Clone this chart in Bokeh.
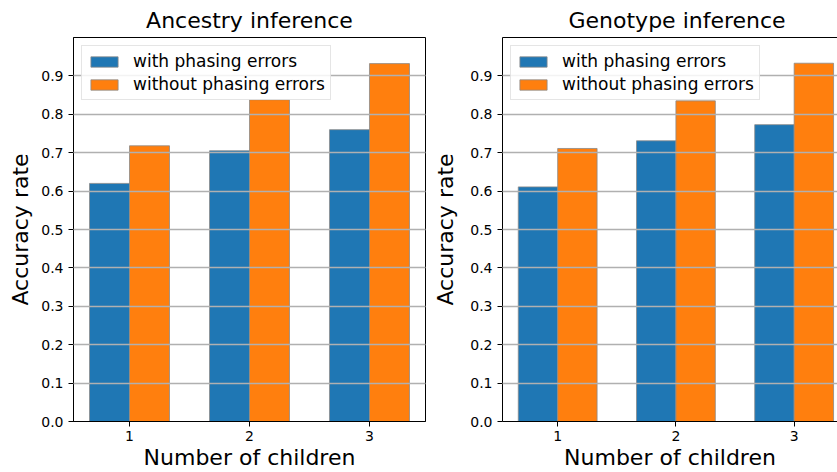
from bokeh.plotting import figure
from bokeh.layouts import row
from bokeh.models import Range1d, FixedTicker, LinearAxis
from bokeh.embed import file_html
from bokeh.resources import INLINE

# ---- data ----
children = [1, 2, 3]
x_tick_labels = ["1", "2", "3"]
y_ticks = [0.0, 0.1, 0.2, 0.3, 0.4, 0.5, 0.6, 0.7, 0.8, 0.9]
y_tick_labels = ["0.0", "0.1", "0.2", "0.3", "0.4", "0.5", "0.6", "0.7", "0.8", "0.9"]
ancestry_with = [0.620, 0.705, 0.760]
ancestry_without = [0.718, 0.838, 0.932]
genotype_with = [0.611, 0.731, 0.773]
genotype_without = [0.711, 0.835, 0.933]
series_labels = ["with phasing errors", "without phasing errors"]
titles = ["Ancestry inference", "Genotype inference"]
x_label = "Number of children"
y_label = "Accuracy rate"

BLUE = "#1f77b4"
ORANGE = "#ff7f0e"
EDGE = "#8a8a8a"
FONT = "DejaVu Sans"
BAR_W = 1.0 / 3.0


def make_panel(title, with_vals, without_vals, width, x_end, border_left, border_right,
               clipped, ylabel_standoff):
    p = figure(width=width, height=472, output_backend="svg", toolbar_location=None,
               x_range=Range1d(0.5333, x_end), y_range=Range1d(0.0, 1.0),
               min_border_left=border_left, min_border_right=border_right,
               min_border_top=36, min_border_bottom=51)
    p.title.text = title
    p.title.text_font = FONT
    p.title.text_font_size = "22px"
    p.title.text_font_style = "normal"
    p.title.text_color = "black"
    if clipped:
        p.title.align = "left"
        p.title.offset = 66
    else:
        p.title.align = "center"

    p.vbar(x=[c - BAR_W / 2 for c in children], top=with_vals, bottom=0, width=BAR_W,
           fill_color=BLUE, line_color=EDGE, line_width=0.8, legend_label=series_labels[0])
    p.vbar(x=[c + BAR_W / 2 for c in children], top=without_vals, bottom=0, width=BAR_W,
           fill_color=ORANGE, line_color=EDGE, line_width=0.8, legend_label=series_labels[1])

    p.xaxis.ticker = FixedTicker(ticks=children)
    p.xaxis.major_label_overrides = {c: l for c, l in zip(children, x_tick_labels)}
    p.yaxis.ticker = FixedTicker(ticks=y_ticks)
    p.yaxis.major_label_overrides = {t: l for t, l in zip(y_ticks, y_tick_labels)}
    for ax in (p.xaxis, p.yaxis):
        ax.axis_line_color = "black"
        ax.axis_line_width = 1
        ax.major_tick_line_color = "black"
        ax.major_tick_in = 0
        ax.major_tick_out = 5
        ax.minor_tick_line_color = None
        ax.major_label_text_font = FONT
        ax.major_label_text_font_size = "14px"
        ax.major_label_text_color = "black"
        ax.axis_label_text_font = FONT
        ax.axis_label_text_font_size = "22px"
        ax.axis_label_text_font_style = "normal"
        ax.axis_label_text_color = "black"
    p.xaxis.axis_label = x_label
    p.yaxis.axis_label = y_label
    p.xaxis.major_label_standoff = 4
    p.xaxis.axis_label_standoff = 1
    p.yaxis.major_label_standoff = 5
    p.yaxis.axis_label_standoff = ylabel_standoff

    p.xgrid.visible = False
    p.ygrid.grid_line_color = "#b0b0b0"
    p.ygrid.grid_line_width = 1.3
    p.ygrid.level = "guide"

    if clipped:
        p.outline_line_color = None
        top = LinearAxis(ticker=FixedTicker(ticks=[]), axis_line_color="black",
                         major_tick_line_color=None, minor_tick_line_color=None,
                         major_label_text_font_size="0px")
        p.add_layout(top, "above")
    else:
        p.outline_line_color = "black"
        p.outline_line_width = 1
        p.outline_line_alpha = 1

    lg = p.legend[0]
    lg.location = "top_left"
    lg.margin = 8
    lg.padding = 5
    lg.spacing = 3
    lg.glyph_width = 34
    lg.glyph_height = 13
    lg.label_height = 20
    lg.label_standoff = 12
    lg.label_text_font = FONT
    lg.label_text_font_size = "17px"
    lg.label_text_color = "black"
    lg.border_line_color = "#cccccc"
    lg.border_line_width = 1
    lg.background_fill_alpha = 0.85
    p.background_fill_color = "white"
    p.border_fill_color = "white"
    return p


p1 = make_panel(titles[0], ancestry_with, ancestry_without, 430, 3.4667, 73, 5, False, 5)
p2 = make_panel(titles[1], genotype_with, genotype_without, 407, 3.3667, 67, 0, True, 9)

layout = row(p1, p2)
open("out.html", "w").write(file_html(layout, INLINE))
